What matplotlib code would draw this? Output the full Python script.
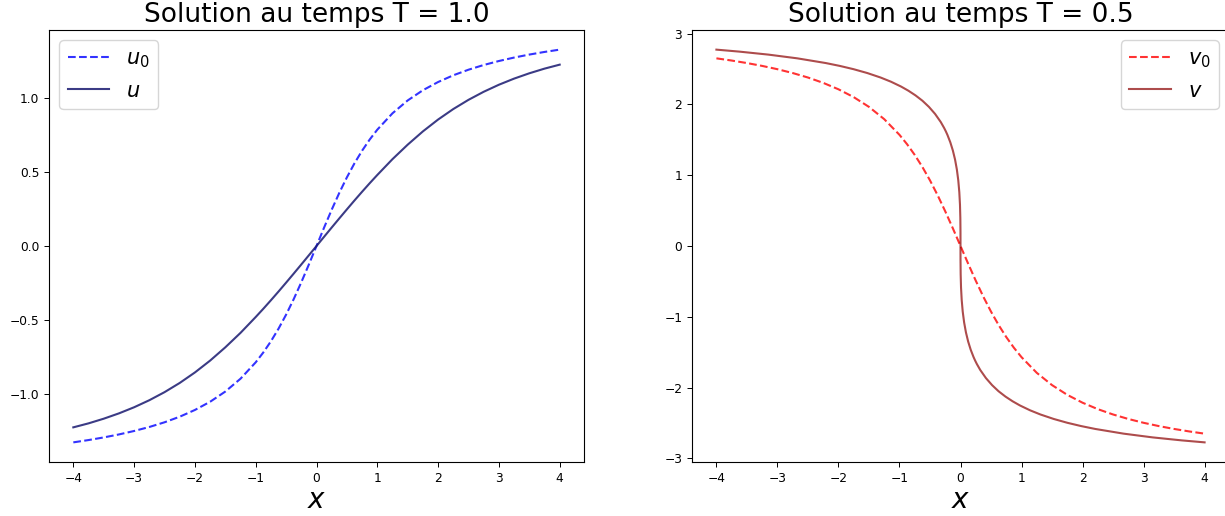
import numpy as np
import matplotlib
matplotlib.use("Agg")
import matplotlib.pyplot as plt

# grid used for u0, u and v0 (finer near 0)
x = [-4.0, -3.75, -3.5, -3.25, -3.0, -2.75, -2.5, -2.25, -2.0, -1.75, -1.5, -1.25,
     -1.0, -0.875, -0.75, -0.625, -0.5, -0.375, -0.25, -0.125, 0.0,
     0.125, 0.25, 0.375, 0.5, 0.625, 0.75, 0.875, 1.0,
     1.25, 1.5, 1.75, 2.0, 2.25, 2.5, 2.75, 3.0, 3.25, 3.5, 3.75, 4.0]

u0 = [-1.3258, -1.3102, -1.2925, -1.2723, -1.2490, -1.2220, -1.1903, -1.1526,
      -1.1071, -1.0517, -0.9828, -0.8961,
      -0.7854, -0.7188, -0.6435, -0.5586, -0.4636, -0.3588, -0.2450, -0.1244, 0.0,
      0.1244, 0.2450, 0.3588, 0.4636, 0.5586, 0.6435, 0.7188, 0.7854,
      0.8961, 0.9828, 1.0517, 1.1071, 1.1526, 1.1903, 1.2220, 1.2490, 1.2723,
      1.2925, 1.3102, 1.3258]

u = [-1.2244, -1.1975, -1.1660, -1.1301, -1.0888, -1.0413, -0.9869, -0.9247,
     -0.8538, -0.7738, -0.6842, -0.5865,
     -0.4795, -0.4239, -0.3664, -0.3076, -0.2474, -0.1864, -0.1247, -0.0624, 0.0,
     0.0624, 0.1247, 0.1864, 0.2474, 0.3076, 0.3664, 0.4239, 0.4795,
     0.5865, 0.6842, 0.7738, 0.8538, 0.9247, 0.9869, 1.0413, 1.0888, 1.1301,
     1.1660, 1.1975, 1.2244]

v0 = [2.6516, 2.6204, 2.5850, 2.5446, 2.4981, 2.4440, 2.3806, 2.3052,
      2.2143, 2.1034, 1.9656, 1.7922,
      1.5708, 1.4376, 1.2870, 1.1172, 0.9273, 0.7176, 0.4900, 0.2488, 0.0,
      -0.2488, -0.4900, -0.7176, -0.9273, -1.1172, -1.2870, -1.4376, -1.5708,
      -1.7922, -1.9656, -2.1034, -2.2143, -2.3052, -2.3806, -2.4440, -2.4981,
      -2.5446, -2.5850, -2.6204, -2.6516]

# v is very steep near 0, so it gets its own (uneven) grid
xv = [-4.0, -3.6266, -3.1479, -2.6742, -2.2075, -1.9777, -1.7510, -1.5280,
      -1.3097, -1.1393, -0.9736, -0.8531, -0.7363, -0.6238, -0.5172, -0.4168,
      -0.3239, -0.2670, -0.2402, -0.2146, -0.1672, -0.1253, -0.0893, -0.0596,
      -0.0364, -0.0195, -0.0085, -0.0026, -0.00033, -0.00004, 0.0,
      0.00004, 0.00033, 0.0026, 0.0085, 0.0195, 0.0364, 0.0596, 0.0893,
      0.1253, 0.1672, 0.2146, 0.2402, 0.2670, 0.3239, 0.4168, 0.5172,
      0.6238, 0.7363, 0.8531, 0.9736, 1.1393, 1.3097, 1.5280, 1.7510,
      1.9777, 2.2075, 2.6742, 3.1479, 3.6266, 4.0]

v = [2.7746, 2.7468, 2.7043, 2.6516, 2.5850, 2.5446, 2.4981, 2.4440,
     2.3806, 2.3214, 2.2528, 2.1938, 2.1274, 2.0525, 1.9656, 1.8664,
     1.7521, 1.6660, 1.6196, 1.5708, 1.4656, 1.3495, 1.2215, 1.0808,
     0.9273, 0.7610, 0.5829, 0.3948, 0.1993, 0.0999, 0.0,
     -0.0999, -0.1993, -0.3948, -0.5829, -0.7610, -0.9273, -1.0808, -1.2215,
     -1.3495, -1.4656, -1.5708, -1.6196, -1.6660, -1.7521, -1.8664, -1.9656,
     -2.0525, -2.1274, -2.1938, -2.2528, -2.3214, -2.3806, -2.4440, -2.4981,
     -2.5446, -2.5850, -2.6516, -2.7043, -2.7468, -2.7746]

fig = plt.figure(figsize=(12.25, 5.16), dpi=100)
ax1 = fig.add_axes([49/1225, 1-462/516, 535/1225, 432/516])
ax2 = fig.add_axes([692/1225, 1-462/516, 537/1225, 432/516])

lw = 1.5
ax1.plot(x, u0, '--', color='blue', alpha=0.8, lw=lw, label='$u_0$')
ax1.plot(x, u, color='midnightblue', alpha=0.85, lw=lw, label='$u$')
ax1.set_title('Solution au temps T = 1.0', fontsize=19)
ax1.set_xlabel('$x$', fontsize=20)
ax1.legend(loc='upper left', fontsize=15)

ax2.plot(x, v0, '--', color='red', alpha=0.8, lw=lw, label='$v_0$')
ax2.plot(xv, v, color='darkred', alpha=0.7, lw=lw, label='$v$')
ax2.set_title('Solution au temps T = 0.5', fontsize=19)
ax2.set_xlabel('$x$', fontsize=20)
ax2.legend(loc='upper right', fontsize=15)

for ax in (ax1, ax2):
    ax.tick_params(labelsize=8.8, length=3.5, width=0.7)
    ax.xaxis.labelpad = 1
    for sp in ax.spines.values():
        sp.set_linewidth(0.8)

fig.savefig('out.png', dpi=100)
